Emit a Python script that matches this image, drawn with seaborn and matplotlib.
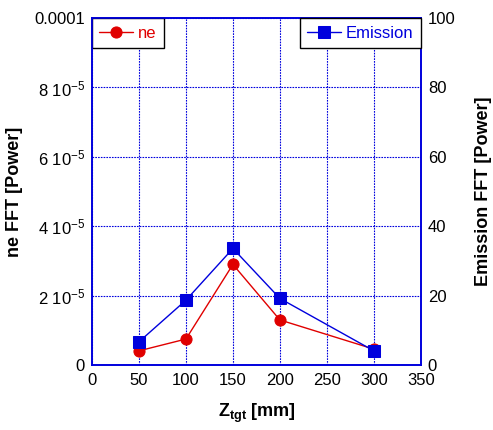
import matplotlib
matplotlib.use("Agg")
import matplotlib.pyplot as plt
import pandas as pd
import seaborn as sns

z_tgt = [50, 100, 150, 200, 300]
ne_power = [4.1e-6, 7.5e-6, 2.90e-5, 1.30e-5, 4.6e-6]
emission_power = [6.7, 18.7, 33.6, 19.2, 4.1]

y_ticks = [0, 2e-5, 4e-5, 6e-5, 8e-5, 1e-4]
y_tick_labels = ["0", "2 10$^{-5}$", "4 10$^{-5}$", "6 10$^{-5}$", "8 10$^{-5}$", "0.0001"]
x_ticks = [0, 50, 100, 150, 200, 250, 300, 350]
y2_ticks = [0, 20, 40, 60, 80, 100]

sns.set_theme(style="white")
plt.rcParams["font.family"] = ["Liberation Sans", "DejaVu Sans"]
plt.rcParams["mathtext.fontset"] = "custom"
plt.rcParams["mathtext.rm"] = "Liberation Sans"
plt.rcParams["mathtext.it"] = "Liberation Sans"
plt.rcParams["mathtext.bf"] = "Liberation Sans:bold"
plt.rcParams["text.color"] = "black"
plt.rcParams["axes.labelcolor"] = "black"

df = pd.DataFrame({"z": z_tgt, "ne": ne_power, "emission": emission_power})

fig = plt.figure(figsize=(4.93, 4.30), dpi=100)
ax = fig.add_axes([0.1866, 0.151, 0.667, 0.807])
ax2 = ax.twinx()

sns.lineplot(data=df, x="z", y="ne", ax=ax, color="#e00000", marker="o",
             markersize=8, markeredgecolor="#e00000", linewidth=1, label="ne")
sns.lineplot(data=df, x="z", y="emission", ax=ax2, color="#0000dd", marker="s",
             markersize=8.5, markeredgecolor="#0000dd", linewidth=1, label="Emission")

ax.set_xlim(0, 350)
ax.set_ylim(0, 1e-4)
ax2.set_ylim(0, 100)
ax.set_xticks(x_ticks)
ax.set_yticks(y_ticks)
ax.set_yticklabels(y_tick_labels)
ax2.set_yticks(y2_ticks)

ax.grid(True, color="#0000dd", linestyle=(0, (1.5, 1)), linewidth=0.8)
ax.set_axisbelow(True)

for a in (ax, ax2):
    a.tick_params(labelsize=12, colors="black", length=0, pad=5)
    for s in a.spines.values():
        s.set_color("#0000dd")
        s.set_linewidth(1.2)
ax.tick_params(axis="x", pad=6)

ax.set_xlabel("Z$_{\\mathbf{tgt}}$ [mm]", fontsize=13, fontweight="bold", labelpad=10)
ax.set_ylabel("ne FFT [Power]", fontsize=13, fontweight="bold", labelpad=8)
ax2.set_ylabel("Emission FFT [Power]", fontsize=13, fontweight="bold", labelpad=14)

leg1 = ax.legend(loc="upper left", borderaxespad=0, fancybox=False, edgecolor="black",
                 fontsize=12, handlelength=2.0, handletextpad=0.3, labelcolor="#e00000",
                 framealpha=1, borderpad=0.45)
leg1.get_frame().set_linewidth(1)
leg2 = ax2.legend(loc="upper right", borderaxespad=0, fancybox=False, edgecolor="black",
                  fontsize=12, handlelength=2.0, handletextpad=0.3, labelcolor="#0000dd",
                  framealpha=1, borderpad=0.45)
leg2.get_frame().set_linewidth(1)

fig.savefig("out.png", dpi=100)
